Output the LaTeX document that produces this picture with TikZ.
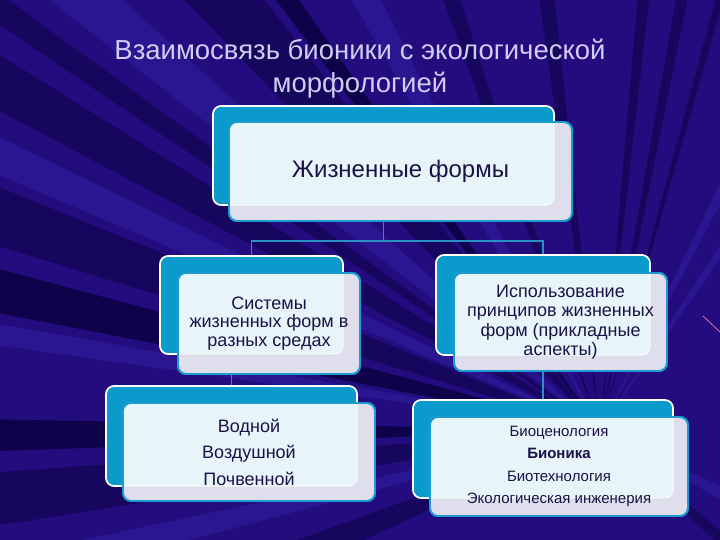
\documentclass[tikz,border=0pt]{standalone}
\usepackage{fontspec}
\setmainfont{Liberation Sans}
\usetikzlibrary{positioning,calc,fit}
\pgfdeclarelayer{backdrop}
\pgfdeclarelayer{links}
\pgfsetlayers{backdrop,links,main}

\definecolor{slidebg}{HTML}{220C7E}
\definecolor{raylight}{HTML}{2A1690}
\definecolor{raydark}{HTML}{16065E}
\definecolor{raydeep}{HTML}{0E034A}
\definecolor{raypink}{HTML}{E070B8}
\definecolor{boxteal}{HTML}{0A9BCC}
\definecolor{frontedge}{HTML}{1E9ACF}
\definecolor{frontlight}{HTML}{E7F5FA}
\definecolor{frontgrey}{HTML}{DFDEED}
\definecolor{inktext}{HTML}{1A1246}
\definecolor{titletext}{HTML}{D2CBF2}
\definecolor{linkblue}{HTML}{2C8EC6}

\tikzset{
  backbox/.style={draw=white, line width=1.6pt, fill=boxteal, rounded corners=8pt, inner sep=0pt, outer sep=0pt},
  frontbox/.style={draw=frontedge, line width=1.8pt, fill=frontgrey, rounded corners=8pt, inner sep=0pt, outer sep=0pt},
  link/.style={draw=linkblue, line width=1.6pt},
  boxtext/.style={text=inktext, align=center, inner sep=0pt}
}

\begin{document}
\begin{tikzpicture}[x=1pt,y=-1pt]
% Slide 720 x 540, y grows downwards

\useasboundingbox (0,0) rectangle (720,540);

% Background with rays
\begin{pgfonlayer}{backdrop}
\fill[slidebg] (0,0) rectangle (720,540);
\begin{scope}
\clip (0,0) rectangle (720,540);
\coordinate (C) at (600,430);
\foreach \a/\b in {203/206,188/190,218/222,240/243,296/298,303/305,165/168,25/30}
  \fill[raylight] (C) -- ($(C)+(\a:1200)$) -- ($(C)+(\b:1200)$) -- cycle;
\foreach \a/\b in {197/202,208/212,214/216,226/232,250/252,262/264,275/276.5,280/281.5,
                   285/286,171/176,155/160,40/44}
  \fill[raydark] (C) -- ($(C)+(\a:1200)$) -- ($(C)+(\b:1200)$) -- cycle;
\foreach \a/\b in {191/195,178/181,233/235}
  \fill[raydeep] (C) -- ($(C)+(\a:1200)$) -- ($(C)+(\b:1200)$) -- cycle;
\end{scope}
\draw[raypink, line width=0.8pt] (703,316) -- (720,332);
\end{pgfonlayer}

% Title
\node[text=titletext, align=center, font=\fontsize{27.5}{33}\selectfont] (title) at (360,69)
  {Взаимосвязь бионики с экологической\\морфологией};

% Back boxes
\node[backbox, fit={(213,106) (554,205)}] (topback) {};
\node[backbox, fit={(160,256) (343,354)}] (sysback) {};
\node[backbox, fit={(436,255) (650,355)}] (useback) {};
\node[backbox, fit={(106,386) (357,486)}] (envback) {};
\node[backbox, fit={(413,400) (673,498)}] (appback) {};

% Front boxes
\node[frontbox, fit={(229,122) (572,221)}] (topfront) {};
\node[frontbox, fit={(178,273) (360,374)}] (sysfront) {};
\node[frontbox, fit={(454,273) (667,371)}] (usefront) {};
\node[frontbox, fit={(123,403) (375,501)}] (envfront) {};
\node[frontbox, fit={(430,417) (688,516)}] (appfront) {};

% Lighter part of each front box where it covers the back box
\foreach \n in {top,sys,use,env,app} {
  \begin{scope}
    \clip[rounded corners=8pt] (\n back.south west) rectangle (\n back.north east);
    \fill[frontlight, rounded corners=8pt] (\n front.south west) rectangle (\n front.north east);
  \end{scope}
  \draw[white, opacity=.7, line width=1.2pt, rounded corners=8pt]
    (\n back.south west) rectangle (\n back.north east);
  \draw[frontedge, line width=1.8pt, rounded corners=8pt]
    (\n front.south west) rectangle (\n front.north east);
}

% Connectors
\coordinate (fork) at (383,241);
\begin{pgfonlayer}{links}
\draw[link] (topback.center) -- (topback.center |- fork) -| (sysback.center);
\draw[link] (topback.center |- fork) -| (useback.center);
\draw[link] (envback.center) -- (envback.center |- sysback.center);
\draw[link] (appback.center) -- (useback.center);
\end{pgfonlayer}

% Texts
\node[boxtext, font=\fontsize{24}{28}\selectfont] (toptext) at (topfront) {Жизненные формы};
\node[boxtext, font=\fontsize{18}{18.5}\selectfont] (systext) at (sysfront)
  {Системы\\жизненных форм в\\разных средах};
\node[boxtext, font=\fontsize{18}{19.5}\selectfont] (usetext) at (usefront)
  {Использование\\принципов жизненных\\форм (прикладные\\аспекты)};
\node[boxtext, font=\fontsize{18}{26.5}\selectfont] (envtext) at (envfront)
  {Водной\\Воздушной\\Почвенной};
\node[boxtext, font=\fontsize{15}{22.3}\selectfont] (apptext) at (appfront)
  {Биоценология\\\textbf{Бионика}\\Биотехнология\\Экологическая инженерия};
\end{tikzpicture}
\end{document}
